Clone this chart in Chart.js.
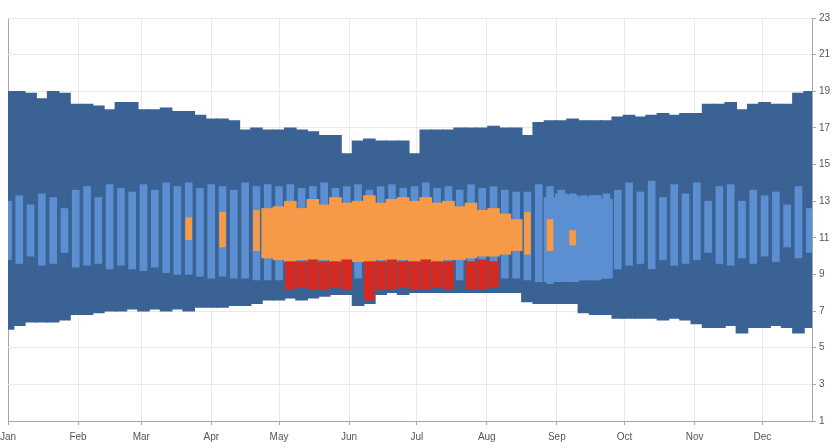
<!DOCTYPE html>
<html>
<head>
<meta charset="utf-8">
<script src="https://cdn.jsdelivr.net/npm/chart.js@4.4.0/dist/chart.umd.min.js"></script>
<style>
html,body{margin:0;padding:0;background:#fff;}
#wrap{width:835px;height:448px;}
</style>
</head>
<body>
<div id="wrap"><canvas id="c" width="835" height="448"></canvas></div>
<script>
// Month ticks (day of year) and labels
const monthStarts = [0,31,59,90,120,151,181,212,243,273,304,334];
const monthLabels = ['Jan','Feb','Mar','Apr','May','Jun','Jul','Aug','Sep','Oct','Nov','Dec'];
const yTicks = [1,3,5,7,9,11,13,15,17,19,21,23];

// Day-of-year of each 5-day period
const days = [0,5,10,15,20,25,30,35,40,45,50,55,60,65,70,75,80,85,90,95,100,105,110,115,120,125,130,135,140,145,150,155,160,165,170,175,180,185,190,195,200,205,210,215,220,225,230,235,240,245,250,255,260,265,270,275,280,285,290,295,300,305,310,315,320,325,330,335,340,345,350,355];

// Dark blue band
const darkHi = [19.0,19.0,18.9,18.6,19.0,18.9,18.3,18.3,18.2,18.0,18.4,18.4,18.0,18.0,18.1,17.9,17.9,17.7,17.5,17.5,17.4,16.9,17.0,16.9,16.9,17.0,16.9,16.8,16.6,16.6,15.6,16.3,16.4,16.3,16.3,16.3,15.6,16.9,16.9,16.9,17.0,17.0,17.0,17.1,17.0,17.0,16.6,17.3,17.4,17.4,17.5,17.4,17.4,17.4,17.6,17.7,17.6,17.7,17.8,17.7,17.8,17.8,18.3,18.3,18.4,18.0,18.3,18.4,18.3,18.3,18.9,19.0];
const darkLo = [6.0,6.2,6.4,6.4,6.4,6.5,6.8,6.8,6.9,7.0,7.0,7.1,7.0,7.1,7.0,7.1,7.0,7.2,7.2,7.2,7.3,7.3,7.4,7.6,7.6,7.7,7.6,7.7,7.8,7.9,7.9,7.3,7.4,7.9,8.0,7.9,8.0,8.0,8.0,8.0,8.0,8.0,8.0,8.0,8.0,8.0,7.5,7.4,7.4,7.4,7.4,6.9,6.8,6.8,6.6,6.6,6.6,6.6,6.5,6.6,6.5,6.3,6.1,6.1,6.2,5.8,6.1,6.1,6.2,6.1,5.8,6.1];

// Light blue stripes
const lightHi = [13.0,13.3,12.8,13.4,13.2,12.6,13.6,13.8,13.2,13.9,13.7,13.5,13.9,13.6,14.0,13.8,14.0,13.7,13.9,13.8,13.6,14.0,13.8,13.9,13.8,13.9,13.7,13.8,14.0,13.7,13.8,13.9,13.6,13.8,13.9,13.7,13.8,14.0,13.7,13.8,13.6,13.9,13.7,13.8,13.6,13.5,13.5,13.9,13.8,13.6,13.4,13.3,13.3,13.4,13.6,14.0,13.5,14.1,13.2,13.9,13.4,14.0,13.0,13.8,13.9,13.0,13.6,13.3,13.5,12.8,13.8,12.6];
const lightLo = [9.8,9.6,10.0,9.5,9.6,10.2,9.4,9.5,9.6,9.3,9.5,9.3,9.2,9.4,9.1,9.0,9.0,8.9,8.8,8.9,8.8,8.8,8.7,8.7,8.7,8.8,8.7,8.8,8.7,8.8,8.7,8.8,8.7,8.7,8.8,8.7,8.8,8.7,8.8,8.7,8.7,8.8,8.7,8.8,8.8,8.8,8.7,8.6,8.5,8.6,8.6,8.7,8.7,8.8,9.3,9.5,9.6,9.3,9.8,9.5,9.6,9.8,10.2,9.6,9.5,9.9,9.6,10.0,9.7,10.5,9.9,10.2];

// Solid light blue block (September)
const solidDays = [240,245,250,255,260,265];
const solidHi = [13.2,13.4,13.3,13.2,13.3,13.1];
const solidLo = [8.6,8.6,8.6,8.7,8.7,8.8];

// Orange, dense part (May - mid Aug)
const orangeDays = [115,120,125,130,135,140,145,150,155,160,165,170,175,180,185,190,195,200,205,210,215,220,225];
const orangeHi = [12.6,12.7,13.0,12.6,13.1,12.8,13.2,12.9,13.0,13.3,12.9,13.1,13.2,13.0,13.2,12.9,13.0,12.7,12.9,12.5,12.6,12.3,12.0];
const orangeLo = [9.9,9.8,9.7,9.8,9.7,9.8,9.7,9.8,9.7,9.7,9.8,9.7,9.8,9.7,9.8,9.7,9.8,9.8,9.9,10.0,10.0,10.1,10.3];

// Orange, isolated spots (Apr, late Aug)
const spotDays = [80,95,110,230,240,250];
const spotHi = [12.1,12.4,12.5,12.4,12.0,11.4];
const spotLo = [10.9,10.5,10.3,10.1,10.3,10.6];

// Red blocks
const redDays = [125,130,135,140,145,150,160,165,170,175,180,185,190,195,205,210,215];
const redHi = [9.7,9.7,9.8,9.7,9.7,9.8,9.7,9.7,9.8,9.7,9.7,9.8,9.7,9.7,9.7,9.8,9.7];
const redLo = [8.2,8.3,8.2,8.2,8.3,8.2,7.6,8.2,8.2,8.3,8.2,8.2,8.3,8.2,8.2,8.2,8.3];

function pts(xs, lo, hi){
  const out = [];
  for (let i = 0; i < xs.length; i++) {
    if (lo[i] == null || hi[i] == null) continue;
    out.push({x: xs[i], y: [lo[i], hi[i]]});
  }
  return out;
}

const FONT = "'Liberation Sans Narrow','Arial Narrow','Liberation Sans',sans-serif";

new Chart(document.getElementById('c'), {
  type: 'bar',
  data: {
    datasets: [
      {data: pts(redDays, redLo, redHi), backgroundColor: '#d42a22', barThickness: 10, grouped: false, order: 1},
      {data: pts(orangeDays, orangeLo, orangeHi), backgroundColor: '#f79a48', barThickness: 12, grouped: false, order: 2},
      {data: pts(spotDays, spotLo, spotHi), backgroundColor: '#f79a48', barThickness: 6, grouped: false, order: 2},
      {data: pts(solidDays, solidLo, solidHi), backgroundColor: '#5b8fd1', barThickness: 12, grouped: false, order: 3},
      {data: pts(days, lightLo, lightHi), backgroundColor: '#5b8fd1', barThickness: 7, grouped: false, order: 4},
      {data: pts(days, darkLo, darkHi), backgroundColor: '#3a6294', barThickness: 12, grouped: false, order: 5}
    ]
  },
  options: {
    responsive: false,
    animation: false,
    devicePixelRatio: 1,
    layout: {padding: {left: 8, top: 18, right: 0, bottom: 0}},
    plugins: {legend: {display: false}, tooltip: {enabled: false}},
    elements: {bar: {borderWidth: 0, borderSkipped: false}},
    scales: {
      x: {
        type: 'linear', min: 0, max: 356, offset: false,
        afterBuildTicks: s => { s.ticks = monthStarts.map(v => ({value: v})); },
        afterFit: s => { s.height = 27; s.paddingLeft = 0; s.paddingRight = 0; },
        ticks: {
          autoSkip: false, maxRotation: 0, padding: 6,
          color: '#555', font: {family: FONT, size: 10},
          callback: v => monthLabels[monthStarts.indexOf(v)]
        },
        grid: {
          offset: false,
          color: c => (c.tick && c.tick.value === 0) ? '#a6a6a6' : '#e9e9e9',
          tickColor: '#a6a6a6', tickLength: 4
        },
        border: {display: true, color: '#a6a6a6'}
      },
      y: {
        position: 'right', min: 1, max: 23, beginAtZero: false,
        afterBuildTicks: s => { s.ticks = yTicks.map(v => ({value: v})); },
        afterFit: s => { s.width = 23; s.paddingTop = 0; s.paddingBottom = 0; },
        ticks: {padding: 3, color: '#555', font: {family: FONT, size: 10}},
        grid: {color: '#e9e9e9', tickColor: '#a6a6a6', tickLength: 4},
        border: {display: true, color: '#a6a6a6'}
      }
    }
  }
});
</script>
</body>
</html>
